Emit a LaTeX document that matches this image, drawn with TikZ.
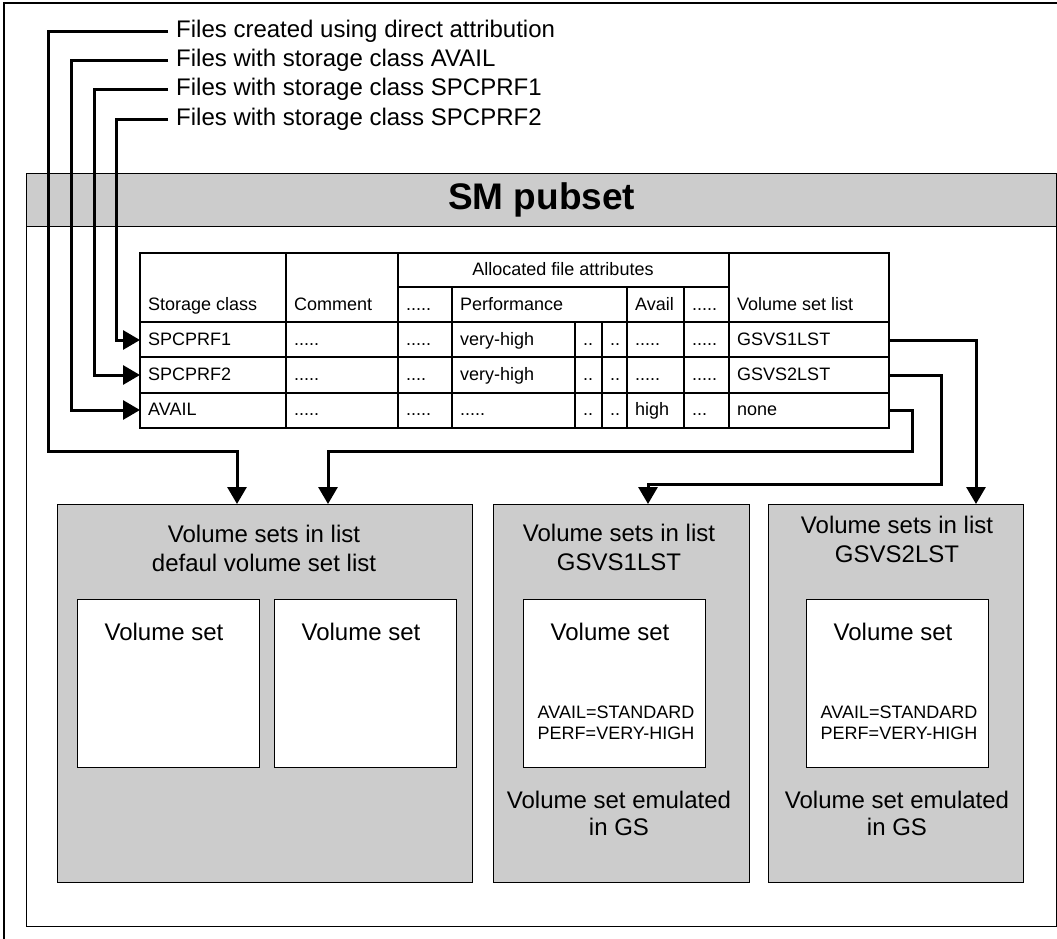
\documentclass[tikz,border=0pt]{standalone}
\usepackage{fontspec}
\setmainfont{Liberation Sans}
\definecolor{boxgray}{RGB}{204,204,204}
\usetikzlibrary{arrows.meta, positioning}

\tikzset{
  cell/.style={anchor=west, inner xsep=8pt, inner ysep=0pt, text height=13pt, text depth=3pt, font=\fontsize{18}{21}\selectfont},
  lbl/.style={anchor=west, inner xsep=8pt, inner ysep=0pt, text height=17pt, text depth=5pt, font=\fontsize{24}{29}\selectfont},
  boxtext/.style={align=center, inner sep=0pt, font=\fontsize{24}{29}\selectfont},
  attr/.style={align=left, inner sep=0pt, font=\fontsize{18}{21}\selectfont},
  listbox/.style={draw, line width=1.4pt, fill=boxgray, anchor=north west, inner sep=0pt, minimum height=378pt},
  setbox/.style={draw, line width=1.4pt, fill=white, anchor=north west, inner sep=0pt, minimum width=182pt, minimum height=168pt},
  tabline/.style={line width=1.2pt},
  conn/.style={line width=3pt},
  into/.style={conn, -{Triangle[length=17pt,width=19pt]}},
}

\begin{document}
\begin{tikzpicture}[x=1pt, y=-1pt]
        \useasboundingbox (0,0) rectangle (1057,939);
        \draw[line width=1.4pt] (4,939) -- (4,3) -- (1057,3);

        % SM pubset
        \node[draw, line width=1.4pt, anchor=north west, inner sep=0pt, minimum width=1030pt, minimum height=753pt] (pubset) at (26,173) {};
        \node[draw, line width=1.4pt, fill=boxgray, anchor=north west, inner sep=0pt, minimum width=1030pt, minimum height=53pt,
              font=\fontsize{37}{44}\selectfont\bfseries] (pubhead) at (26,173) {SM pubset};

        % Storage class table
        \draw[tabline] (140,253) rectangle (889,428);
        \draw[tabline] (398,287) -- (729,287);
        \draw[tabline] (140,322) -- (889,322);
        \draw[tabline] (140,357) -- (889,357);
        \draw[tabline] (140,393) -- (889,393);
        \draw[tabline] (286,253) -- (286,428);
        \draw[tabline] (398,253) -- (398,428);
        \draw[tabline] (729,253) -- (729,428);
        \draw[tabline] (452,287) -- (452,428);
        \draw[tabline] (627,287) -- (627,428);
        \draw[tabline] (684,287) -- (684,428);
        \draw[tabline] (575,322) -- (575,428);
        \draw[tabline] (602,322) -- (602,428);

        \node[cell, anchor=center] (hAlloc) at (563,270) {Allocated file attributes};
        \node[cell] (hClass) at (140,305) {Storage class};
        \node[cell] (hComm) at (286,305) {Comment};
        \node[cell] (hDotsA) at (398,305) {.....};
        \node[cell] (hPerf) at (452,305) {Performance};
        \node[cell] (hAvail) at (627,305) {Avail};
        \node[cell] (hDotsB) at (684,305) {.....};
        \node[cell] (hList) at (729,305) {Volume set list};

        \node[cell] (scA) at (140,340) {SPCPRF1};
        \node[cell] (cmA) at (286,340) {.....};
        \node[cell] (dtA) at (398,340) {.....};
        \node[cell] (pfA) at (452,340) {very-high};
        \node[cell] (xaA) at (575,340) {..};
        \node[cell] (xbA) at (602,340) {..};
        \node[cell] (avA) at (627,340) {.....};
        \node[cell] (ddA) at (684,340) {.....};
        \node[cell, text width=144pt, align=left] (vlA) at (729,340) {GSVS1LST};

        \node[cell] (scB) at (140,375) {SPCPRF2};
        \node[cell] (cmB) at (286,375) {.....};
        \node[cell] (dtB) at (398,375) {....};
        \node[cell] (pfB) at (452,375) {very-high};
        \node[cell] (xaB) at (575,375) {..};
        \node[cell] (xbB) at (602,375) {..};
        \node[cell] (avB) at (627,375) {.....};
        \node[cell] (ddB) at (684,375) {.....};
        \node[cell, text width=144pt, align=left] (vlB) at (729,375) {GSVS2LST};

        \node[cell] (scC) at (140,410) {AVAIL};
        \node[cell] (cmC) at (286,410) {.....};
        \node[cell] (dtC) at (398,410) {.....};
        \node[cell] (pfC) at (452,410) {.....};
        \node[cell] (xaC) at (575,410) {..};
        \node[cell] (xbC) at (602,410) {..};
        \node[cell] (avC) at (627,410) {high};
        \node[cell] (ddC) at (684,410) {...};
        \node[cell, text width=144pt, align=left] (vlC) at (729,410) {none};

        % File groups
        \node[lbl] (fDirect) at (168,32) {Files created using direct attribution};
        \node[lbl] (fAvail) at (168,61) {Files with storage class AVAIL};
        \node[lbl] (fPrfOne) at (168,90) {Files with storage class SPCPRF1};
        \node[lbl] (fPrfTwo) at (168,120) {Files with storage class SPCPRF2};

        % Volume set lists
        \node[listbox, minimum width=415pt] (dflt) at (57,504) {};
        \node[listbox, minimum width=256pt] (gsOne) at (493,504) {};
        \node[listbox, minimum width=255pt] (gsTwo) at (768,504) {};

        \node[boxtext] (dfltT) at (264,548) {Volume sets in list\\defaul volume set list};
        \node[boxtext] (gsOneT) at (619,547) {Volume sets in list\\GSVS1LST};
        \node[boxtext] (gsTwoT) at (897,539) {Volume sets in list\\GSVS2LST};

        \node[setbox] (vsA) at (77,599) {};
        \node[setbox] (vsB) at (274,599) {};
        \node[setbox] (vsC) at (523,599) {};
        \node[setbox] (vsD) at (806,599) {};

        \node[boxtext] (vsAT) at (164,632) {Volume set};
        \node[boxtext] (vsBT) at (361,632) {Volume set};
        \node[boxtext] (vsCT) at (610,632) {Volume set};
        \node[boxtext] (vsDT) at (893,632) {Volume set};

        \node[attr] (vsCA) at (616,723) {AVAIL=STANDARD\\PERF=VERY-HIGH};
        \node[attr] (vsDA) at (899,723) {AVAIL=STANDARD\\PERF=VERY-HIGH};

        \node[boxtext, font=\fontsize{24}{27}\selectfont] (gsOneE) at (619,813) {Volume set emulated\\in GS};
        \node[boxtext, font=\fontsize{24}{27}\selectfont] (gsTwoE) at (897,813) {Volume set emulated\\in GS};

        % Connectors
        \coordinate (railA) at (48,451);
        \coordinate (railB) at (71,0);
        \coordinate (railC) at (94,0);
        \coordinate (railD) at (116,0);
        \coordinate (bendN) at (912,451);
        \coordinate (bendG) at (941,484);
        \coordinate (inDA) at (237,504);
        \coordinate (inDB) at (328,504);
        \coordinate (inG1) at (648,504);
        \coordinate (inG2) at (976,504);

        \draw[into] (fPrfTwo.west) -| (railD |- scA.west) -- (scA.west);
        \draw[into] (fPrfOne.west) -| (railC |- scB.west) -- (scB.west);
        \draw[into] (fAvail.west) -| (railB |- scC.west) -- (scC.west);
        \draw[into] (fDirect.west) -| (railA) -| (inDA);
        \draw[into] (vlC.east) -| (bendN) -| (inDB);
        \draw[into] (vlB.east) -| (bendG) -| (inG1);
        \draw[into] (vlA.east) -| (inG2);
\end{tikzpicture}
\end{document}
